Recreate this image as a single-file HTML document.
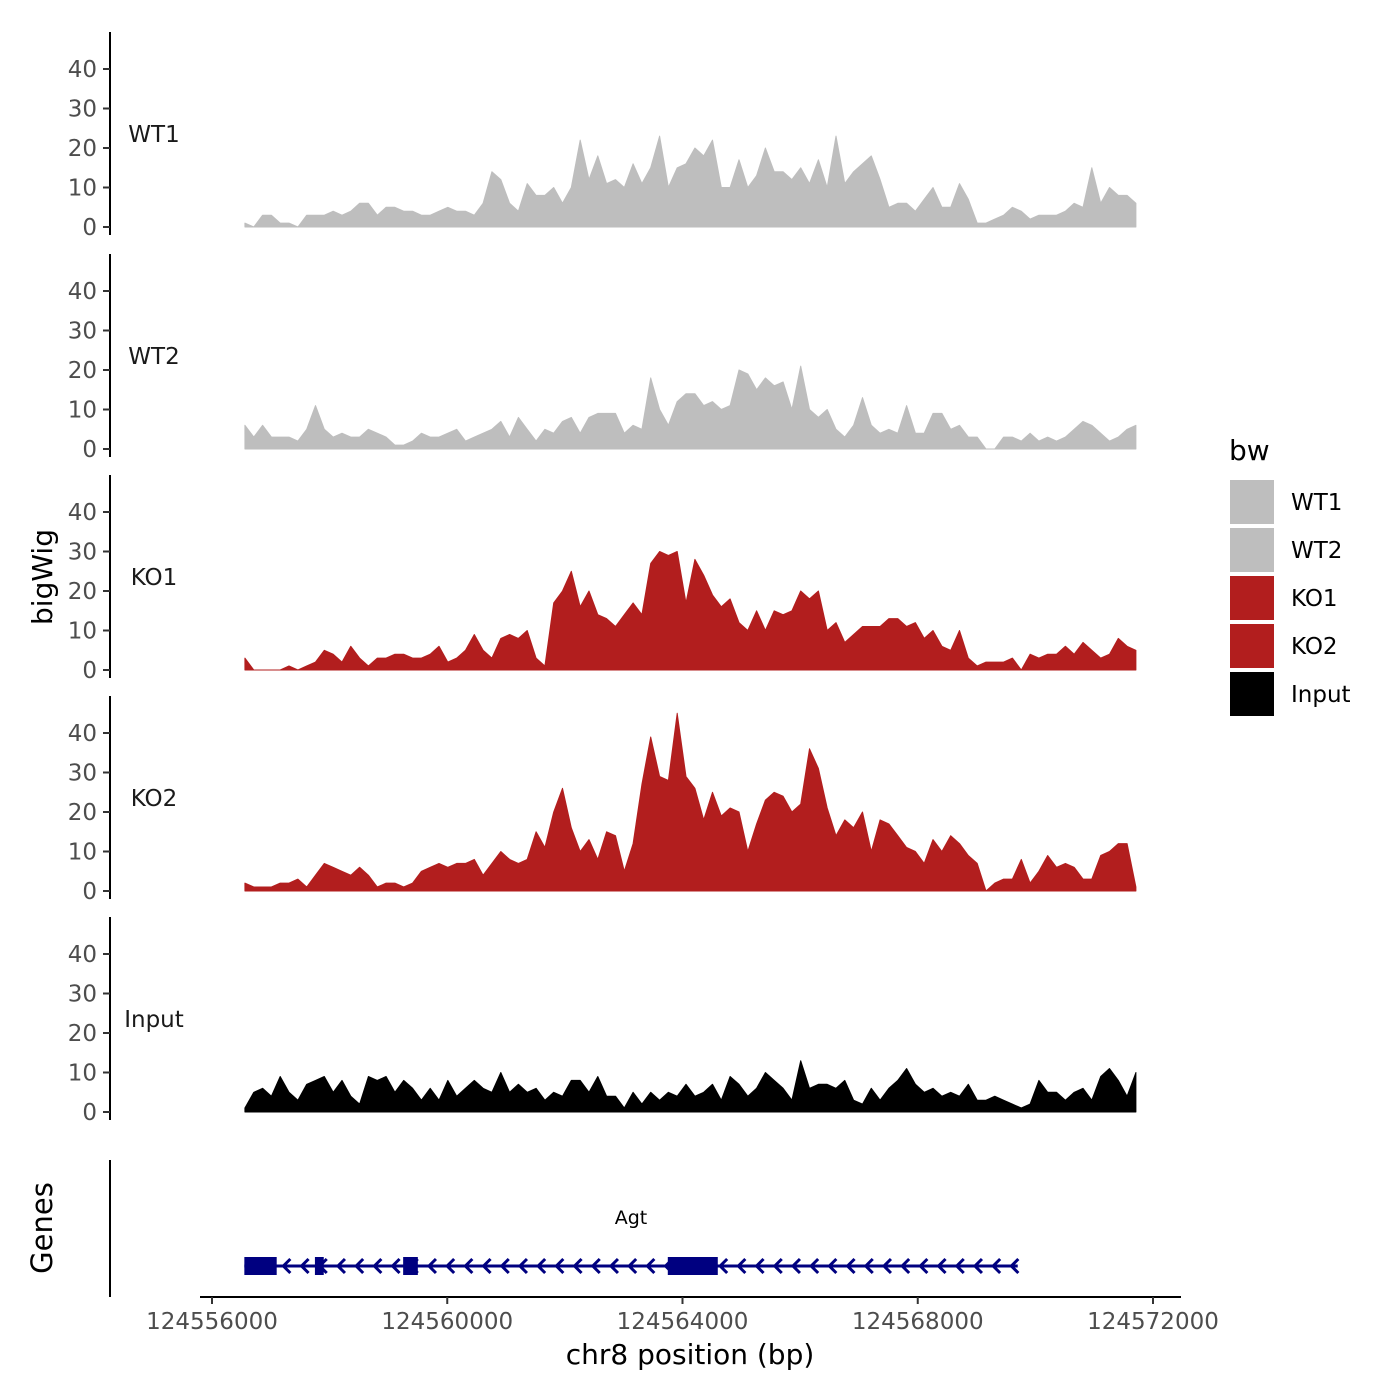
<!DOCTYPE html>
<html><head><meta charset="utf-8"><style>
body{margin:0;background:#fff}
svg{display:block;font-family:"DejaVu Sans","Liberation Sans",sans-serif}
</style></head><body>
<svg id="chart" width="1400" height="1400" viewBox="0 0 1400 1400" xmlns="http://www.w3.org/2000/svg"></svg>
<script>
const trackNames = ["WT1","WT2","KO1","KO2","Input"];
const trackColors = ["#bebebe","#bebebe","#b21e1e","#b21e1e","#000000"];
const posStart = 124556560;
const posStep = 150;
const wt1 = [1,0,3,3,1,1,0,3,3,3, 4,3,4,6,6,3,5,5,4,4, 3,3,4,5,4,4,3,6,14,12, 6,4,11,8,8,10,6,10,22,12, 18,11,12,10,16,11,15,23,10,15, 16,20,18,22,10,10,17,10,13,20, 14,14,12,15,11,17,10,23,11,14, 16,18,12,5,6,6,4,7,10,5, 5,11,7,1,1,2,3,5,4,2, 3,3,3,4,6,5,15,6,10,8, 8,6];
const wt2 = [6,3,6,3,3,3,2,5,11,5, 3,4,3,3,5,4,3,1,1,2, 4,3,3,4,5,2,3,4,5,7, 3,8,5,2,5,4,7,8,4,8, 9,9,9,4,6,5,18,10,6,12, 14,14,11,12,10,11,20,19,15,18, 16,17,10,21,10,8,10,5,3,6, 13,6,4,5,4,11,4,4,9,9, 5,6,3,3,0,0,3,3,2,4, 2,3,2,3,5,7,6,4,2,3, 5,6];
const ko1 = [3,0,0,0,0,1,0,1,2,5, 4,2,6,3,1,3,3,4,4,3, 3,4,6,2,3,5,9,5,3,8, 9,8,10,3,1,17,20,25,16,20, 14,13,11,14,17,14,27,30,29,30, 17,28,24,19,16,18,12,10,15,10, 15,14,15,20,18,20,10,12,7,9, 11,11,11,13,13,11,12,8,10,6, 5,10,3,1,2,2,2,3,0,4, 3,4,4,6,4,7,5,3,4,8, 6,5];
const ko2 = [2,1,1,1,2,2,3,1,4,7, 6,5,4,6,4,1,2,2,1,2, 5,6,7,6,7,7,8,4,7,10, 8,7,8,15,11,20,26,16,10,13, 8,15,14,5,12,27,39,29,28,45, 29,26,18,25,19,21,20,10,17,23, 25,24,20,22,36,31,21,14,18,16, 20,10,18,17,14,11,10,7,13,10, 14,12,9,7,0,2,3,3,8,2, 5,9,6,7,6,3,3,9,10,12, 12,1];
const input = [1,5,6,4,9,5,3,7,8,9, 5,8,4,2,9,8,9,5,8,6, 3,6,3,8,4,6,8,6,5,10, 5,7,5,6,3,5,4,8,8,5, 9,4,4,1,5,2,5,3,5,4, 7,4,5,7,3,9,7,4,6,10, 8,6,3,13,6,7,7,6,8,3, 2,6,3,6,8,11,7,5,6,4, 5,4,7,3,3,4,3,2,1,2, 8,5,5,3,5,6,3,9,11,8, 4,10];
const trackData = [wt1,wt2,ko1,ko2,input];
const yTicks = [0,10,20,30,40];
const xTicks = [124556000,124560000,124564000,124568000,124572000];
const xTickLabels = ["124556000","124560000","124564000","124568000","124572000"];
const exons = [[124556550,124557100],[124557750,124557900],[124559250,124559500],[124563750,124564600]];
const geneStart = 124556550, geneEnd = 124569700, geneName = "Agt";

const NS="http://www.w3.org/2000/svg";
const svg=document.getElementById('chart');
function mk(tag,attrs,parent){const e=document.createElementNS(NS,tag);for(const k in attrs)e.setAttribute(k,attrs[k]);(parent||svg).appendChild(e);return e;}
const xScale = bp => 212 + (bp-124556000)*(941/16000);
const panelZero = [227,449,670,891,1112];
const yScale = (p,v) => panelZero[p] - v*3.95;

trackData.forEach((vals,p)=>{
  const g=mk('g',{});
  
  
  const ax=mk('line',{x1:110,x2:110,y1:panelZero[p]-195,y2:panelZero[p]+8,stroke:'#000','stroke-width':2},g);
  
  
  yTicks.forEach(t=>{
    const y=yScale(p,t);
    const tk=mk('line',{x1:103,x2:110,y1:y,y2:y,stroke:'#333','stroke-width':2},g);
    
    
    const tl=mk('text',{x:97,y:y+8,'text-anchor':'end','font-size':23,fill:'#4d4d4d'},g);
    tl.textContent=t;
    
    
  });
  const lab=mk('text',{x:154,y:panelZero[p]-85,'text-anchor':'middle','font-size':23,fill:'#1a1a1a'},g);
  lab.textContent=trackNames[p];
  
  
  let d='M'+xScale(posStart)+','+panelZero[p];
  vals.forEach((v,i)=>{d+=' L'+xScale(posStart+i*posStep).toFixed(1)+','+yScale(p,v).toFixed(1);});
  d+=' L'+xScale(posStart+(vals.length-1)*posStep).toFixed(1)+','+panelZero[p]+' Z';
  const area=mk('path',{d:d,fill:trackColors[p],stroke:trackColors[p],'stroke-width':1,'stroke-linejoin':'round'},g);
  
  
});

const yt=mk('text',{x:0,y:0,transform:'translate(52,577) rotate(-90)','text-anchor':'middle','font-size':28,fill:'#000'});
yt.textContent='bigWig';



const gt=mk('text',{x:0,y:0,transform:'translate(52,1228) rotate(-90)','text-anchor':'middle','font-size':29,fill:'#000'});
gt.textContent='Genes';


const gax=mk('line',{x1:110,x2:110,y1:1160,y2:1297,stroke:'#000','stroke-width':2});


const gline=mk('line',{x1:xScale(geneStart),x2:xScale(geneEnd),y1:1266,y2:1266,stroke:'#000080','stroke-width':3});


for(let x=xScale(geneStart)+40;x<xScale(geneEnd);x+=18.2){
  const a=mk('path',{d:`M${x+6},${1259} L${x-1},${1266} L${x+6},${1273}`,fill:'none',stroke:'#000080','stroke-width':3});
  
  
}
exons.forEach(e=>{
  const r=mk('rect',{x:xScale(e[0]),y:1257,width:xScale(e[1])-xScale(e[0]),height:18,fill:'#000080'});
  
  
});
const gn=mk('text',{x:631,y:1224,'text-anchor':'middle','font-size':19,fill:'#000'});
gn.textContent=geneName;



const xax=mk('line',{x1:200,x2:1181,y1:1297,y2:1297,stroke:'#000','stroke-width':2});


xTicks.forEach((t,i)=>{
  const x=xScale(t);
  const tk=mk('line',{x1:x,x2:x,y1:1297,y2:1304,stroke:'#333','stroke-width':2});
  
  
  const tl=mk('text',{x:x,y:1329,'text-anchor':'middle','font-size':23,fill:'#4d4d4d'});
  tl.textContent=xTickLabels[i];
  
  
});
const xt=mk('text',{x:690,y:1364,'text-anchor':'middle','font-size':28,fill:'#000'});
xt.textContent='chr8 position (bp)';



const lt=mk('text',{x:1229,y:460,'font-size':28,fill:'#000'});
lt.textContent='bw';


trackNames.forEach((n,i)=>{
  const y=480+i*48;
  const g=mk('g',{});
  
  
  mk('rect',{x:1230,y:y,width:44,height:44,fill:trackColors[i]},g);
  const t=mk('text',{x:1291,y:y+30,'font-size':23,fill:'#000'},g);
  t.textContent=n;
});
</script>
</body></html>
